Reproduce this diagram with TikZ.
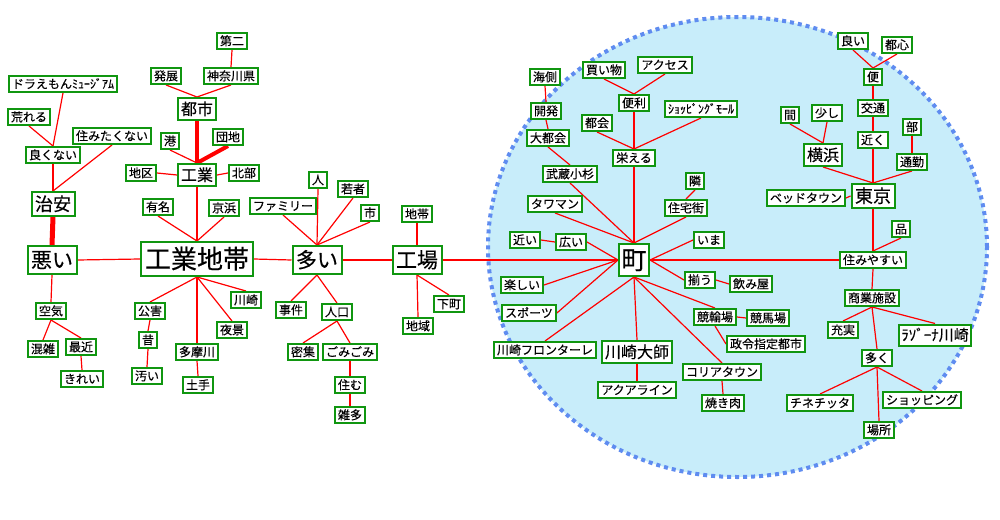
\documentclass[tikz,border=0pt]{standalone}
\usepackage{fontspec}
\setmainfont{Noto Sans CJK JP}[FakeBold=0.35]
\pgfdeclarelayer{bg}
\pgfdeclarelayer{edges}
\pgfsetlayers{bg,edges,main}
\definecolor{gbox}{RGB}{16,150,16}
\definecolor{skyfill}{RGB}{200,237,250}
\definecolor{dotblue}{RGB}{95,140,240}
\tikzset{
 base/.style={draw=gbox, line width=2pt, fill=white, inner ysep=0pt},
 s/.style={base, font=\fontsize{12}{12}\selectfont, text height=10.4pt, text depth=1.6pt, minimum height=16pt, inner xsep=3pt},
 mA/.style={base, font=\fontsize{16}{16}\selectfont, text height=13.9pt, text depth=2.1pt, minimum height=22pt, inner xsep=3pt},
 mB/.style={base, font=\fontsize{18}{18}\selectfont, text height=15.6pt, text depth=2.4pt, minimum height=24pt, inner xsep=3.5pt},
 mC/.style={base, font=\fontsize{21}{21}\selectfont, text height=18.2pt, text depth=2.8pt, minimum height=28pt, inner xsep=3.5pt},
 lA/.style={base, font=\fontsize{25}{25}\selectfont, text height=21.7pt, text depth=3.3pt, minimum height=32pt, inner xsep=2.5pt},
 lB/.style={base, font=\fontsize{26}{26}\selectfont, text height=22.6pt, text depth=3.4pt, minimum height=34pt, inner xsep=4pt},
 lz/.style={base, font=\fontsize{15}{15}\selectfont, text height=13pt, text depth=2pt, minimum height=21pt, inner xsep=2.5pt},
 e/.style={draw=red, line width=1.2pt},
 ethick/.style={draw=red, line width=#1},
}
\begin{document}
\begin{tikzpicture}[x=1pt,y=-1pt]
\useasboundingbox (0,0) rectangle (1000,519);
\begin{pgfonlayer}{bg}
\fill[white] (0,0) rectangle (1000,519);
\fill[skyfill] (737.5,247) ellipse [x radius=249.5pt, y radius=230pt];
\draw[dotblue, line width=4pt, dash pattern=on 4pt off 4pt] (737.5,247) ellipse [x radius=249.5pt, y radius=230pt];
\end{pgfonlayer}
% left
\node[s] (dora) at (63,84) {ドラえもんﾐｭｰｼﾞｱﾑ};
\node[s] (areru) at (29,117) {荒れる};
\node[s] (sumitaku) at (112,136) {住みたくない};
\node[s] (yokunai) at (53,155) {良くない};
\node[mB] (chian) at (53,204) {治安};
\node[mC] (warui) at (52,260) {悪い};
\node[s] (kuuki) at (51,311) {空気};
\node[s] (konzatsu) at (43,349) {混雑};
\node[s] (saikin) at (81,347) {最近};
\node[s] (kirei) at (82,379) {きれい};
% industrial
\node[s] (daini) at (232,41) {第二};
\node[s] (hatten) at (166,76) {発展};
\node[s] (kanagawa) at (231,76) {神奈川県};
\node[mA] (toshi) at (197,109) {都市};
\node[s] (minato) at (170,141) {港};
\node[s] (danchi) at (228,137) {団地};
\node[s] (chiku) at (141,173) {地区};
\node[mA] (kogyo) at (197,175) {工業};
\node[s] (hokubu) at (244,173) {北部};
\node[s] (yumei) at (158,207) {有名};
\node[s] (keihin) at (224,208) {京浜};
\node[lB] (kcd) at (197,259) {工業地帯};
\node[s] (kougai) at (150,311) {公害};
\node[s] (mukashi) at (148,340) {昔};
\node[s] (kitanai) at (147,376) {汚い};
\node[s] (tama) at (197,352) {多摩川};
\node[s] (dote) at (198,385) {土手};
\node[s] (yakei) at (232,330) {夜景};
\node[s] (kawasaki) at (246,300) {川崎};
% ooi
\node[mC] (ooi) at (317,260) {多い};
\node[s] (family) at (283,206) {ファミリー};
\node[s] (hito) at (318,180) {人};
\node[s] (wakamono) at (353,189) {若者};
\node[s] (shi) at (370,213) {市};
\node[s] (jiken) at (291,310) {事件};
\node[s] (jinko) at (337,312) {人口};
\node[s] (misshu) at (303,352) {密集};
\node[s] (gomi) at (350,352) {ごみごみ};
\node[s] (sumu) at (350,385) {住む};
\node[s] (zatta) at (350,415) {雑多};
% kojo
\node[mC] (kojo) at (417,260) {工場};
\node[s] (chitai) at (417,214) {地帯};
\node[s] (shitamachi) at (449,304) {下町};
\node[s] (chiiki) at (418,326) {地域};
% machi
\node[s] (umigawa) at (545,77) {海側};
\node[s] (kaihatsu) at (546,111) {開発};
\node[s] (daitokai) at (548,138) {大都会};
\node[s] (kaimono) at (604,70) {買い物};
\node[s] (access) at (665,65) {アクセス};
\node[s] (benri) at (634,103) {便利};
\node[s] (tokai) at (597,123) {都会};
\node[s] (mall) at (701,109) {ｼｮｯﾋﾟﾝｸﾞﾓｰﾙ};
\node[s] (sakaeru) at (634,158) {栄える};
\node[s] (musashi) at (570,174) {武蔵小杉};
\node[s] (tawaman) at (555,204) {タワマン};
\node[s] (tonari) at (695,181) {隣};
\node[s] (jutaku) at (686,208) {住宅街};
\node[s] (chikai) at (525,240) {近い};
\node[s] (hiroi) at (571,242) {広い};
\node[s] (ima) at (709,240) {いま};
\node[lA] (machi) at (634,260) {町};
\node[s] (tanoshii) at (522,285) {楽しい};
\node[s] (sports) at (529,313) {スポーツ};
\node[s] (sorou) at (700,280) {揃う};
\node[s] (nomiya) at (751,284) {飲み屋};
\node[s] (keirin) at (715,317) {競輪場};
\node[s] (keiba) at (768,318) {競馬場};
\node[s] (seirei) at (766,344) {政令指定都市};
\node[s] (frontale) at (545,350) {川崎フロンターレ};
\node[mA] (daishi) at (637,352) {川崎大師};
\node[s] (aqua) at (637,390) {アクアライン};
\node[s] (korea) at (722,372) {コリアタウン};
\node[s] (yakiniku) at (723,403) {焼き肉};
% right
\node[s] (yoi) at (853,41) {良い};
\node[s] (toshin) at (897,45) {都心};
\node[s] (bin) at (873,77) {便};
\node[s] (kotsu) at (873,108) {交通};
\node[s] (aida) at (790,115) {間};
\node[s] (sukoshi) at (827,113) {少し};
\node[s] (chikaku) at (873,140) {近く};
\node[s] (bu) at (912,127) {部};
\node[mA] (yokohama) at (823,155) {横浜};
\node[s] (tsukin) at (912,162) {通勤};
\node[s] (bedtown) at (806,198) {ベッドタウン};
\node[mB] (tokyo) at (873,196) {東京};
\node[s] (shina) at (901,229) {品};
\node[s] (sumiyasui) at (873,260) {住みやすい};
\node[s] (shogyo) at (872,298) {商業施設};
\node[s] (juujitsu) at (843,330) {充実};
\node[lz] (lazona) at (935,335) {ﾗｿﾞｰﾅ川崎};
\node[s] (ooku) at (877,358) {多く};
\node[s] (cine) at (820,403) {チネチッタ};
\node[s] (shopping) at (922,400) {ショッピング};
\node[s] (basho) at (879,430) {場所};

\begin{pgfonlayer}{edges}
\draw[e] (dora.south) -- (yokunai.north);
\draw[e] (areru.south) -- (yokunai.north);
\draw[e] (yokunai.south) -- (chian.north);
\draw[e] (sumitaku.south) -- (chian.north);
\draw[ethick=5pt] (chian.south) -- (warui.north);
\draw[e] (warui.east) -- (kcd.west);
\draw[e] (warui.south) -- (kuuki.north);
\draw[e] (kuuki.south) -- (konzatsu.north);
\draw[e] (kuuki.south) -- (saikin.north);
\draw[e] (saikin.south) -- (kirei.north);

\draw[e] (daini.south) -- (kanagawa.north);
\draw[e] (hatten.south) -- (toshi.north);
\draw[e] (kanagawa.south) -- (toshi.north);
\draw[ethick=4pt] (toshi.south) -- (kogyo.north);
\draw[e] (minato.south) -- (kogyo.north);
\draw[ethick=4pt] (danchi.south) -- (kogyo.north);
\draw[e] (chiku.east) -- (kogyo.west);
\draw[e] (hokubu.west) -- (kogyo.east);
\draw[e] (kogyo.south) -- (kcd.north);
\draw[e] (yumei.south) -- (kcd.north);
\draw[e] (keihin.south) -- (kcd.north);
\draw[e] (kcd.south) -- (kougai.north);
\draw[e] (kcd.south) -- (tama.north);
\draw[e] (kcd.south) -- (yakei.north);
\draw[e] (kcd.south) -- (kawasaki.north);
\draw[e] (kougai.south) -- (mukashi.north);
\draw[e] (mukashi.south) -- (kitanai.north);
\draw[e] (tama.south) -- (dote.north);

\draw[e] (kcd.east) -- (ooi.west);
\draw[e] (family.south) -- (ooi.north);
\draw[e] (hito.south) -- (ooi.north);
\draw[e] (wakamono.south) -- (ooi.north);
\draw[e] (shi.south) -- (ooi.north);
\draw[e] (ooi.south) -- (jiken.north);
\draw[e] (ooi.south) -- (jinko.north);
\draw[e] (jinko.south) -- (misshu.north);
\draw[e] (jinko.south) -- (gomi.north);
\draw[e] (gomi.south) -- (sumu.north);
\draw[e] (sumu.south) -- (zatta.north);

\draw[e] (ooi.east) -- (kojo.west);
\draw[ethick=2.5pt] (chitai.south) -- (kojo.north);
\draw[e] (kojo.south) -- (chiiki.north);
\draw[e] (kojo.south) -- (shitamachi.north);
\draw[e] (kojo.east) -- (machi.west);

\draw[e] (umigawa.south) -- (kaihatsu.north);
\draw[e] (kaihatsu.south) -- (daitokai.north);
\draw[e] (daitokai.south) -- (musashi.north);
\draw[e] (musashi.south) -- (machi.north);
\draw[e] (kaimono.south) -- (benri.north);
\draw[e] (access.south) -- (benri.north);
\draw[e] (benri.south) -- (sakaeru.north);
\draw[e] (tokai.south) -- (sakaeru.north);
\draw[e] (mall.south) -- (sakaeru.north);
\draw[e] (sakaeru.south) -- (machi.north);
\draw[e] (tawaman.south) -- (machi.north);
\draw[e] (tonari.south) -- (jutaku.north);
\draw[e] (jutaku.south) -- (machi.north);
\draw[e] (chikai.east) -- (hiroi.west);
\draw[e] (hiroi.east) -- (machi.west);
\draw[e] (ima.west) -- (machi.east);
\draw[e] (tanoshii.east) -- (machi.west);
\draw[e] (sports.east) -- (machi.west);
\draw[e] (sorou.west) -- (machi.east);
\draw[e] (sorou.east) -- (nomiya.west);
\draw[e] (frontale.north) -- (machi.south);
\draw[e] (daishi.north) -- (machi.south);
\draw[e] (keirin.north) -- (machi.south);
\draw[e] (korea.north) -- (machi.south);
\draw[e] (keirin.east) -- (keiba.west);
\draw[e] (keirin.south) -- (seirei.west);
\draw[e] (daishi.south) -- (aqua.north);
\draw[e] (korea.south) -- (yakiniku.north);
\draw[e] (machi.east) -- (sumiyasui.west);

\draw[e] (yoi.south) -- (bin.north);
\draw[e] (toshin.south) -- (bin.north);
\draw[e] (bin.south) -- (kotsu.north);
\draw[e] (kotsu.south) -- (chikaku.north);
\draw[e] (chikaku.south) -- (tokyo.north);
\draw[e] (aida.south) -- (yokohama.north);
\draw[e] (sukoshi.south) -- (yokohama.north);
\draw[e] (yokohama.south) -- (tokyo.north);
\draw[e] (bu.south) -- (tsukin.north);
\draw[e] (tsukin.south) -- (tokyo.north);
\draw[e] (bedtown.east) -- (tokyo.west);
\draw[e] (tokyo.south) -- (sumiyasui.north);
\draw[e] (shina.south) -- (sumiyasui.north);
\draw[e] (sumiyasui.south) -- (shogyo.north);
\draw[e] (shogyo.south) -- (juujitsu.north);
\draw[e] (shogyo.south) -- (lazona.north);
\draw[e] (shogyo.south) -- (ooku.north);
\draw[e] (ooku.south) -- (cine.north);
\draw[e] (ooku.south) -- (shopping.north);
\draw[e] (ooku.south) -- (basho.north);
\end{pgfonlayer}
\end{tikzpicture}
\end{document}
